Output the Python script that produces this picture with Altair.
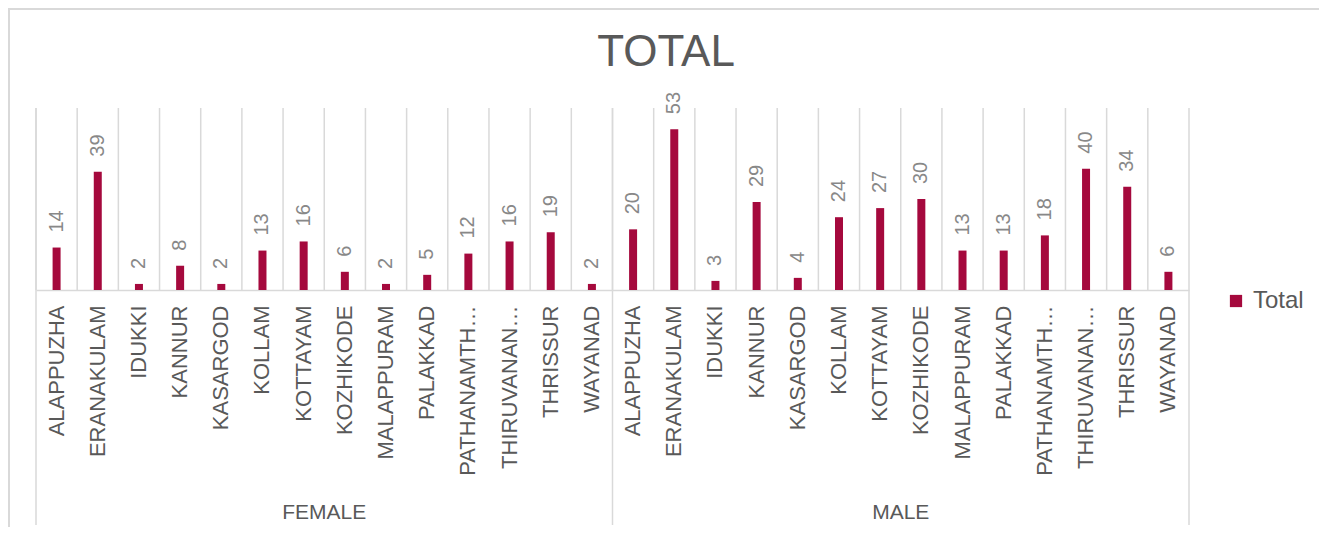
import altair as alt
import pandas as pd

chart_title = "TOTAL"
districts = ["ALAPPUZHA", "ERANAKULAM", "IDUKKI", "KANNUR", "KASARGOD", "KOLLAM",
             "KOTTAYAM", "KOZHIKODE", "MALAPPURAM", "PALAKKAD", "PATHANAMTHITTA",
             "THIRUVANANTHAPURAM", "THRISSUR", "WAYANAD"]
genders = ["FEMALE", "MALE"]
female_totals = [14, 39, 2, 8, 2, 13, 16, 6, 2, 5, 12, 16, 19, 2]
male_totals = [20, 53, 3, 29, 4, 24, 27, 30, 13, 13, 18, 40, 34, 6]
series_name = "Total"

rows = []
for g, vals in zip(genders, [female_totals, male_totals]):
    for d, v in zip(districts, vals):
        rows.append({"gender": g, "district": d, "key": f"{g}|{d}", "total": v, "series": series_name})
df = pd.DataFrame(rows)
keys = list(df["key"])

# group helpers (derived from the lists above)
starts = pd.DataFrame({"key": [f"{g}|{districts[0]}" for g in genders]})
ends = pd.DataFrame({"key": [f"{genders[-1]}|{districts[-1]}"]})
mid = len(districts) // 2
centers = pd.DataFrame({"group": genders, "key": [f"{g}|{districts[mid]}" for g in genders]})
title_df = pd.DataFrame({"t": [chart_title]})

W, H = 1153, 182
PAD_L, PAD_T, PAD_R, PAD_B = 28, 100, 130, 237
FONT = "Liberation Sans"
GRID = "#d9d9d9"
TXT = "#595959"
BAR = "#a5093d"

axis = alt.Axis(title=None, labelAngle=270, labelExpr="split(datum.label, '|')[1]",
                labelFontSize=22, labelColor=TXT, labelFont=FONT, labelLimit=176,
                labelPadding=15, ticks=False, grid=False, domainColor=GRID,
                domainWidth=1.5, labelOverlap=False)
xscale = alt.Scale(paddingInner=0, paddingOuter=0)


def xenc(band=None):
    if band is None:
        return alt.X("key:N", sort=keys, scale=xscale, axis=axis)
    return alt.X("key:N", sort=keys, scale=xscale, axis=axis, bandPosition=band)


yenc = alt.Y("total:Q", scale=alt.Scale(domain=[0, 60]), axis=None)

# outer frame (top and left edges of the chart card)
frame_top = alt.Chart(title_df).mark_rule(color=GRID, strokeWidth=2).encode(
    x=alt.value(-PAD_L), x2=alt.value(W + PAD_R), y=alt.value(-PAD_T + 1))
frame_left = alt.Chart(title_df).mark_rule(color=GRID, strokeWidth=2).encode(
    x=alt.value(-PAD_L + 1), y=alt.value(-PAD_T), y2=alt.value(H + PAD_B))

grid = alt.Chart(df).mark_rule(color=GRID, strokeWidth=1.5).encode(x=xenc(0))

sep_start = alt.Chart(starts).mark_rule(color=GRID, strokeWidth=1.5).encode(
    x=xenc(0), y=alt.value(0), y2=alt.value(417))
sep_end = alt.Chart(ends).mark_rule(color=GRID, strokeWidth=1.5).encode(
    x=xenc(1), y=alt.value(0), y2=alt.value(417))

bars = alt.Chart(df).mark_bar(size=8).encode(
    x=xenc(),
    y=yenc,
    color=alt.Color("series:N", scale=alt.Scale(range=[BAR]),
                    legend=alt.Legend(title=None, orient="none", legendX=1188, legendY=181,
                                      symbolType="square", symbolSize=150,
                                      labelFontSize=24, labelColor=TXT, labelFont=FONT,
                                      symbolStrokeWidth=0, padding=0, labelOffset=5)),
)

labels = alt.Chart(df).mark_text(angle=270, align="left", baseline="middle", dx=15,
                                 fontSize=20, color="#888888", font=FONT).encode(
    x=xenc(), y=yenc, text="total:Q")

groups = alt.Chart(centers).mark_text(align="center", baseline="alphabetic",
                                      fontSize=21, color=TXT, font=FONT).encode(
    x=xenc(0), y=alt.value(411), text="group:N")

title = alt.Chart(title_df).mark_text(align="center", baseline="alphabetic",
                                      fontSize=44, color=TXT, font=FONT).encode(
    x=alt.value(630), y=alt.value(-42), text="t:N")

chart = alt.layer(frame_top, frame_left, grid, sep_start, sep_end, bars, labels,
                  groups, title).properties(
    width=W, height=H,
    autosize=alt.AutoSizeParams(type="none"),
    padding={"left": PAD_L, "top": PAD_T, "right": PAD_R, "bottom": PAD_B},
).configure_view(stroke=None)

chart.save("out.html", embed_options={"renderer": "svg", "actions": False})
